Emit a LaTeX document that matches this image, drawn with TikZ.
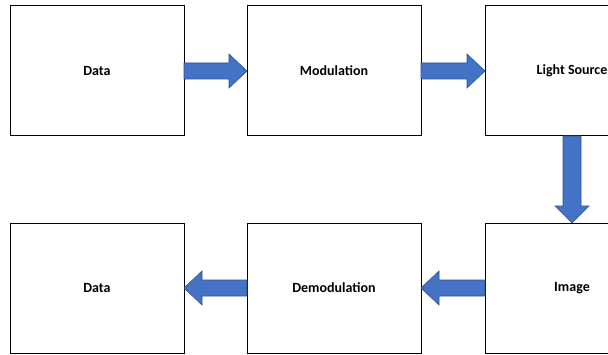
\documentclass[tikz,border=0pt]{standalone}
\usepackage{fontspec}
\setmainfont{Carlito}
\usepackage{tikz}
\usetikzlibrary{positioning,calc}
\definecolor{ArrowBlue}{RGB}{68,114,196}
\definecolor{ArrowEdge}{RGB}{47,82,143}

\tikzset{
  stage/.style={draw=black,line width=1pt,fill=white,outer sep=0pt,minimum width=174pt,minimum height=130pt,
    font=\fontsize{14}{16}\selectfont\bfseries},
  flowarrow/.style={fill=ArrowBlue,draw=ArrowEdge,line width=0.6pt}
}

\begin{document}
\begin{tikzpicture}[x=1pt,y=1pt]
    \useasboundingbox (0,0) rectangle (608,354);
    % top row
    \node[stage] (datain) at (97,283) {Data};
    \node[stage,right=63pt of datain] (mod) {Modulation};
    \node[stage,right=64pt of mod] (light) {Light Source};
    % bottom row
    \node[stage,below=87pt of light] (image) {Image};
    \node[stage,left=64pt of image] (demod) {Demodulation};
    \node[stage,left=63pt of demod] (dataout) {Data};
    % block arrows
    \fill[flowarrow] let \p1=(datain.east), \p2=(mod.west) in
      (\x1,\y1+8) -- (\x2-18,\y1+8) -- (\x2-18,\y1+17) -- (\x2,\y1) -- (\x2-18,\y1-17) -- (\x2-18,\y1-8) -- (\x1,\y1-8) -- cycle;
    \fill[flowarrow] let \p1=(mod.east), \p2=(light.west) in
      (\x1,\y1+8) -- (\x2-18,\y1+8) -- (\x2-18,\y1+17) -- (\x2,\y1) -- (\x2-18,\y1-17) -- (\x2-18,\y1-8) -- (\x1,\y1-8) -- cycle;
    \fill[flowarrow] let \p1=(light.south), \p2=(image.north) in
      (\x1-9,\y1) -- (\x1-9,\y2+17) -- (\x1-17,\y2+17) -- (\x1,\y2) -- (\x1+17,\y2+17) -- (\x1+9,\y2+17) -- (\x1+9,\y1) -- cycle;
    \fill[flowarrow] let \p1=(image.west), \p2=(demod.east) in
      (\x1,\y1+8) -- (\x2+18,\y1+8) -- (\x2+18,\y1+17) -- (\x2,\y1) -- (\x2+18,\y1-17) -- (\x2+18,\y1-8) -- (\x1,\y1-8) -- cycle;
    \fill[flowarrow] let \p1=(demod.west), \p2=(dataout.east) in
      (\x1,\y1+8) -- (\x2+18,\y1+8) -- (\x2+18,\y1+17) -- (\x2,\y1) -- (\x2+18,\y1-17) -- (\x2+18,\y1-8) -- (\x1,\y1-8) -- cycle;
\end{tikzpicture}
\end{document}
